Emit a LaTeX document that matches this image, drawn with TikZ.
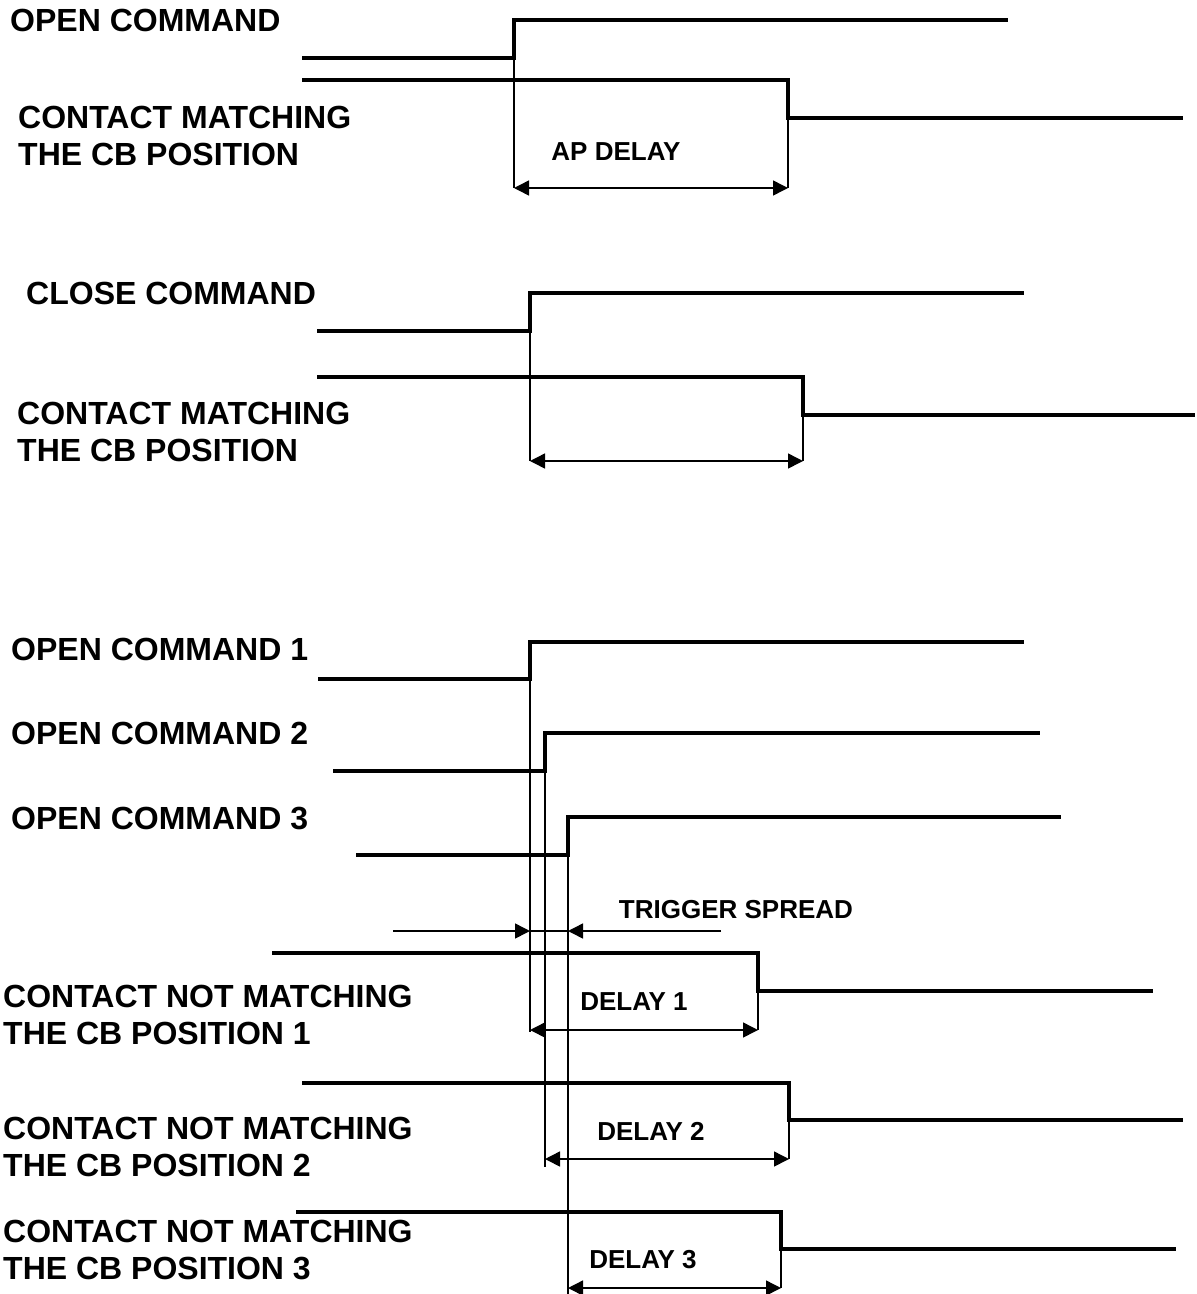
\documentclass[tikz,border=0pt]{standalone}
\usepackage{fontspec}
\setmainfont{Liberation Sans}
\usetikzlibrary{arrows.meta}
\tikzset{
  sig/.style ={line width=3.2pt},
  ext/.style ={line width=1.5pt},
  tip/.style ={line width=1.5pt, -{Triangle[length=15pt,width=15pt]}},
  dim/.style ={line width=1.5pt, {Triangle[length=15pt,width=15pt]}-{Triangle[length=15pt,width=15pt]}},
  lbl/.style ={font=\fontsize{32}{37}\selectfont\bfseries, align=left, anchor=north west, inner sep=0pt},
  tag/.style ={font=\fontsize{26}{30}\selectfont\bfseries, inner sep=0pt},
}
\begin{document}
\begin{tikzpicture}[x=1pt,y=-1pt]
  \useasboundingbox (0,0) rectangle (1197,1294);
  % open command / contact matching
  \node[lbl] (opencmd) at (10,9) {OPEN COMMAND};
  \node[lbl] (contA) at (18,106) {CONTACT MATCHING\\THE CB POSITION};
  \coordinate (riseA) at (514,58);  \coordinate (dropA) at (788,118);
  \coordinate (dimAl) at (514,188); \coordinate (dimAr) at (788,188);
  \draw[sig] (302,58) -- (riseA) -- (514,20) -- (1008,20);
  \draw[sig] (302,80) -- (788,80) -- (dropA) -- (1183,118);
  \draw[ext] (riseA) -- (dimAl); \draw[ext] (dropA) -- (dimAr);
  \draw[dim] (dimAl) -- (dimAr);
  \node[tag] (apdelay) at (616,152) {AP DELAY};
  % close command / contact matching
  \node[lbl] (closecmd) at (26,282) {CLOSE COMMAND};
  \node[lbl] (contB) at (17,402) {CONTACT MATCHING\\THE CB POSITION};
  \coordinate (riseB) at (530,331); \coordinate (dropB) at (803,415);
  \coordinate (dimBl) at (530,461); \coordinate (dimBr) at (803,461);
  \draw[sig] (317,331) -- (riseB) -- (530,293) -- (1024,293);
  \draw[sig] (317,377) -- (803,377) -- (dropB) -- (1195,415);
  \draw[ext] (riseB) -- (dimBl); \draw[ext] (dropB) -- (dimBr);
  \draw[dim] (dimBl) -- (dimBr);
  % three open commands / contacts not matching
  \node[lbl] (opencmd1) at (11,638) {OPEN COMMAND 1};
  \node[lbl] (opencmd2) at (11,722) {OPEN COMMAND 2};
  \node[lbl] (opencmd3) at (11,807) {OPEN COMMAND 3};
  \coordinate (rise1) at (530,679); \coordinate (rise2) at (545,771); \coordinate (rise3) at (568,855);
  \draw[sig] (318,679) -- (rise1) -- (530,642) -- (1024,642);
  \draw[sig] (333,771) -- (rise2) -- (545,733) -- (1040,733);
  \draw[sig] (356,855) -- (rise3) -- (568,817) -- (1061,817);
  \node[lbl] (contC1) at (3,985) {CONTACT NOT MATCHING\\THE CB POSITION 1};
  \node[lbl] (contC2) at (3,1117) {CONTACT NOT MATCHING\\THE CB POSITION 2};
  \node[lbl] (contC3) at (3,1220) {CONTACT NOT MATCHING\\THE CB POSITION 3};
  \coordinate (drop1) at (758,991); \coordinate (drop2) at (789,1120); \coordinate (drop3) at (781,1249);
  \draw[sig] (272,953) -- (758,953) -- (drop1) -- (1153,991);
  \draw[sig] (302,1083) -- (789,1083) -- (drop2) -- (1183,1120);
  \draw[sig] (296,1212) -- (781,1212) -- (drop3) -- (1176,1249);
  \coordinate (dim1l) at (530,1030); \coordinate (dim1r) at (758,1030);
  \coordinate (dim2l) at (545,1159); \coordinate (dim2r) at (789,1159);
  \coordinate (dim3l) at (568,1288); \coordinate (dim3r) at (781,1288);
  \draw[ext] (rise1) -- (530,1032); \draw[ext] (rise2) -- (545,1167); \draw[ext] (rise3) -- (568,1294);
  \draw[ext] (drop1) -- (dim1r); \draw[ext] (drop2) -- (dim2r); \draw[ext] (drop3) -- (dim3r);
  \draw[dim] (dim1l) -- (dim1r);
  \draw[dim] (dim2l) -- (dim2r);
  \draw[dim] (dim3l) -- (dim3r);
  \node[tag] (delay1) at (634,1002) {DELAY 1};
  \node[tag] (delay2) at (651,1131) {DELAY 2};
  \node[tag] (delay3) at (643,1260) {DELAY 3};
  % trigger spread
  \coordinate (sprL) at (530,931); \coordinate (sprR) at (568,931);
  \draw[tip] (393,931) -- (sprL);
  \draw[ext] (sprL) -- (sprR);
  \draw[tip] (721,931) -- (sprR);
  \node[tag] (spread) at (736,910) {TRIGGER SPREAD};
\end{tikzpicture}
\end{document}
